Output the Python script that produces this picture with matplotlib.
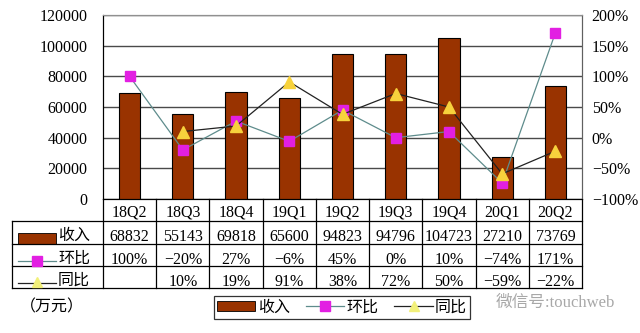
import matplotlib
matplotlib.use("Agg")
from matplotlib import pyplot as plt
from matplotlib.patches import Patch
from matplotlib.lines import Line2D
import numpy as np

plt.rcParams['font.family'] = ['Liberation Serif', 'Noto Sans CJK SC', 'DejaVu Sans']

quarters = ["18Q2", "18Q3", "18Q4", "19Q1", "19Q2", "19Q3", "19Q4", "20Q1", "20Q2"]
revenue = [68832, 55143, 69818, 65600, 94823, 94796, 104723, 27210, 73769]
qoq = [100, -20, 27, -6, 45, 0, 10, -74, 171]          # 环比 %
yoy = [np.nan, 10, 19, 91, 38, 72, 50, -59, -22]        # 同比 %

BAR = '#993300'
MAG = '#E21FE2'
TEAL = '#5E8C8C'
YEL = '#F7D23C'
PALE = '#F2F07A'
FS = 11.5


def pct(v):
    return f"{v:.0f}%".replace("-", "\u2212")


W, H = 640, 333
fig = plt.figure(figsize=(6.4, 3.33), dpi=100)
ax = fig.add_axes([103 / W, 1 - 199 / H, 479 / W, 184 / H])
x = np.arange(len(quarters))

ax.bar(x, revenue, width=0.4, color=BAR, edgecolor='black', linewidth=0.8, zorder=3)
ax.set_xlim(-0.5, len(quarters) - 0.5)
ax.set_ylim(0, 120000)
ax.set_yticks(range(0, 120001, 20000))
ax.tick_params(axis='y', labelsize=FS, length=0, pad=11)
ax.set_xticks([])
ax.grid(axis='y', color='#4a4a4a', linewidth=1, zorder=0)
ax.spines['top'].set_color('#909090')
ax.spines['right'].set_color('#606060')

ax2 = ax.twinx()
ax2.set_ylim(-100, 200)
ax2.set_yticks(range(-100, 201, 50))
ax2.set_yticklabels([pct(v) for v in range(-100, 201, 50)])
ax2.tick_params(axis='y', labelsize=FS, length=0, pad=7)
ax2.spines['top'].set_color('#909090')
ax2.spines['right'].set_color('#606060')
ax2.plot(x, qoq, color=TEAL, linewidth=0.9, marker='s', markersize=7.5,
         markerfacecolor=MAG, markeredgecolor=MAG, zorder=4)
ax2.plot(x, yoy, color='#222222', linewidth=0.9, marker='^', markersize=8,
         markerfacecolor=YEL, markeredgecolor=YEL, zorder=5)
ax2.set_zorder(ax.get_zorder() + 1)

# data table under the plot
tax = fig.add_axes([103 / W, 1 - 288 / H, 479 / W, 89 / H])
tax.set_xlim(-0.5, len(quarters) - 0.5)
tax.set_ylim(4, 0)
tax.axis('off')
cw = 479 / len(quarters)
xl = -0.5 - 91 / cw
xr = len(quarters) - 0.5
kw = dict(color='black', linewidth=0.9, clip_on=False)
for r in [1, 2, 3, 4]:
    tax.plot([xl, xr], [r, r], **kw)
tax.plot([xl, xl], [1, 4], **kw)
for b in np.arange(-0.5, len(quarters), 1):
    tax.plot([b, b], [0, 4], **kw)

tk = dict(ha='center', va='baseline', fontsize=FS)
for i, q in enumerate(quarters):
    tax.text(i, 0.8, q, **tk)
    tax.text(i, 1.9, str(revenue[i]), **tk)
    tax.text(i, 2.9, pct(qoq[i]), **tk)
    if not np.isnan(yoy[i]):
        tax.text(i, 3.9, pct(yoy[i]), **tk)

sx = -0.5 - (103 - 37) / cw
lx = -0.5 - (103 - 74) / cw
hw = 19 / cw
tax.add_patch(plt.Rectangle((sx - hw, 1.55), 2 * hw, 0.45, facecolor=BAR,
                            edgecolor='black', linewidth=0.6, clip_on=False))
tax.plot([sx - hw, sx + hw], [2.78, 2.78], color=TEAL, linewidth=0.9, clip_on=False)
tax.plot([sx], [2.78], marker='s', markersize=7, color=MAG, clip_on=False)
tax.plot([sx - hw, sx + hw], [3.78, 3.78], color='#222222', linewidth=0.9, clip_on=False)
tax.plot([sx], [3.74], marker='^', markersize=7, color=PALE, clip_on=False)
for r, name in zip([1.85, 2.85, 3.85], ["收入", "环比", "同比"]):
    tax.text(lx, r, name, **tk)

fig.text(20 / W, 1 - 307 / H, "（万元）", ha='left', va='center', fontsize=FS)

handles = [Patch(facecolor=BAR, edgecolor='black', linewidth=0.6),
           Line2D([], [], color=TEAL, linewidth=0.9, marker='s', markersize=7,
                  markerfacecolor=MAG, markeredgecolor=MAG),
           Line2D([], [], color='#222222', linewidth=0.9, marker='^', markersize=7,
                  markerfacecolor=PALE, markeredgecolor=PALE)]
leg = fig.legend(handles, ["收入", "环比", "同比"], ncol=3, loc='center',
                 bbox_to_anchor=(342 / W, 1 - 307.5 / H), fontsize=FS,
                 frameon=True, fancybox=False, edgecolor='black',
                 handlelength=2.4, handleheight=0.6, handletextpad=0.15,
                 columnspacing=1.0, borderpad=0.2, borderaxespad=0)
leg.get_frame().set_linewidth(0.9)

fig.text(555 / W, 1 - 303 / H, "微信号:touchweb", ha='center', va='center',
         fontsize=FS + 0.5, color='#a8a8a8', zorder=0)

fig.savefig("out.png", dpi=100)
